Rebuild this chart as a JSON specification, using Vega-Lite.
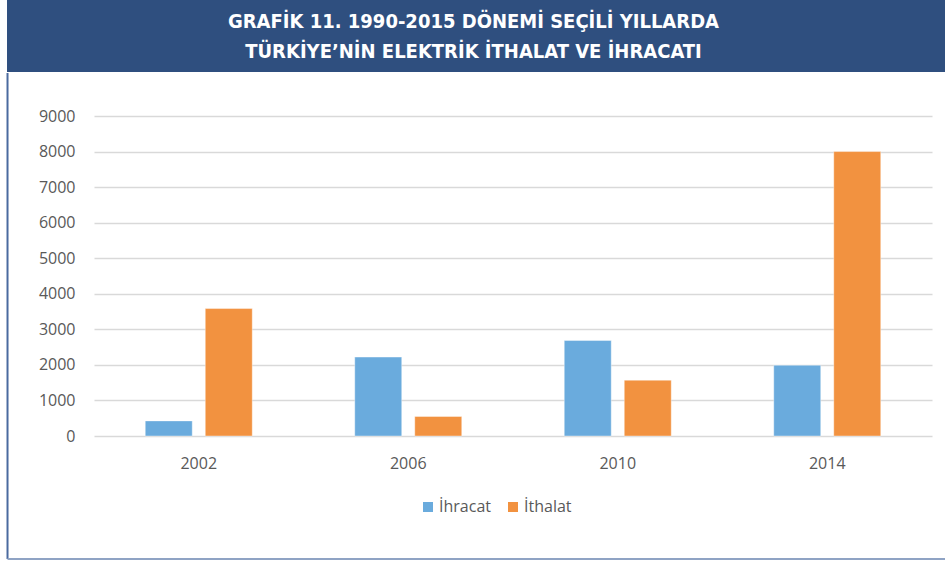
{
  "$schema": "https://vega.github.io/schema/vega-lite/v6.json",
  "padding": {"left": 6, "top": 0, "right": 0, "bottom": 0},
  "background": "white",
  "spacing": 0,
  "columns": 1,
  "config": {"view": {"stroke": null}, "font": "Open Sans"},
  "concat": [
    {
      "width": 852,
      "height": 72,
      "layer": [
        {
          "data": {"values": [{}]},
          "mark": {"type": "rect", "color": "#2f4f7f"},
          "encoding": {
            "x": {"datum": -0.1021, "type": "quantitative", "scale": {"domain": [0, 1]}, "axis": null},
            "x2": {"datum": 1},
            "y": {"datum": 0, "type": "quantitative", "scale": {"domain": [0, 1]}, "axis": null},
            "y2": {"datum": 1}
          }
        },
        {
          "data": {"values": [{"text": "GRAFİK 11. 1990-2015 DÖNEMİ SEÇİLİ YILLARDA\nTÜRKİYE’NİN ELEKTRİK İTHALAT VE İHRACATI"}]},
          "mark": {"type": "text", "color": "white", "fontWeight": "bold", "fontSize": 20, "font": "DejaVu Sans Condensed", "baseline": "middle", "align": "center", "lineBreak": "\n", "lineHeight": 30},
          "encoding": {
            "x": {"datum": 0.4454, "type": "quantitative"},
            "y": {"datum": 0.694, "type": "quantitative"},
            "text": {"field": "text"}
          }
        }
      ]
    },
    {
      "width": 838,
      "height": 320,
      "resolve": {"scale": {"x": "independent"}, "axis": {"y": "independent"}},
      "layer": [
        {
          "data": {"values": [
            {"year": "2002", "seri": "İhracat", "value": 425},
            {"year": "2002", "seri": "İthalat", "value": 3585},
            {"year": "2006", "seri": "İhracat", "value": 2220},
            {"year": "2006", "seri": "İthalat", "value": 550},
            {"year": "2010", "seri": "İhracat", "value": 2685},
            {"year": "2010", "seri": "İthalat", "value": 1570},
            {"year": "2014", "seri": "İhracat", "value": 1990},
            {"year": "2014", "seri": "İthalat", "value": 8000}
          ]},
          "mark": {"type": "bar", "stroke": "white", "strokeOpacity": 0.4, "strokeWidth": 1},
          "encoding": {
            "x": {
              "field": "year", "type": "nominal",
              "scale": {"paddingInner": 0, "paddingOuter": 0},
              "axis": {"title": null, "labelAngle": 0, "domain": false, "ticks": false, "labelPadding": 19, "labelFontSize": 16, "labelColor": "#595959"}
            },
            "xOffset": {
              "field": "seri", "type": "nominal", "sort": ["İhracat", "İthalat"],
              "scale": {"paddingInner": 0.217, "paddingOuter": 0.854}
            },
            "y": {
              "field": "value", "type": "quantitative",
              "scale": {"domain": [0, 9000]},
              "axis": {"title": null, "values": [0, 1000, 2000, 3000, 4000, 5000, 6000, 7000, 8000, 9000], "format": "d", "domain": false, "ticks": false, "labelPadding": 19, "minExtent": 87, "labelFontSize": 16, "labelColor": "#595959", "gridColor": "#d9d9d9", "gridWidth": 1.5}
            },
            "color": {
              "field": "seri", "type": "nominal",
              "scale": {"domain": ["İhracat", "İthalat"], "range": ["#6aabdd", "#f29240"]},
              "legend": {"orient": "none", "legendX": 326, "legendY": 499, "direction": "horizontal", "title": null, "symbolType": "square", "symbolSize": 100, "symbolStrokeWidth": 0, "labelFontSize": 16, "labelColor": "#595959", "columnPadding": 14, "labelOffset": 3}
            }
          }
        },
        {
          "data": {"values": [{}]},
          "mark": {"type": "rule", "color": "#4a6a9f", "strokeWidth": 2},
          "encoding": {
            "x": {"datum": -0.1032, "type": "quantitative", "scale": {"domain": [0, 1]}, "axis": null},
            "y": {"datum": 10209, "axis": null},
            "y2": {"datum": -3459}
          }
        },
        {
          "data": {"values": [{}]},
          "mark": {"type": "rule", "color": "#8fa3c4", "strokeWidth": 2},
          "encoding": {
            "x": {"datum": -0.1032, "type": "quantitative", "scale": {"domain": [0, 1]}, "axis": null},
            "x2": {"datum": 1.0167},
            "y": {"datum": -3459, "axis": null}
          }
        }
      ]
    }
  ]
}
